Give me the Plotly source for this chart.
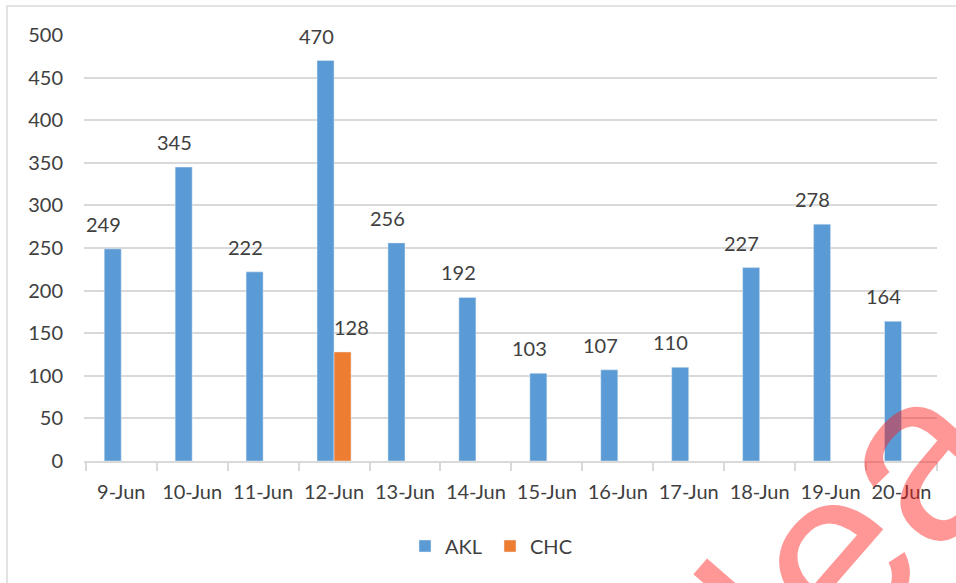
import math
import plotly.graph_objects as go

# Daily counts per airport
dates = ["9-Jun", "10-Jun", "11-Jun", "12-Jun", "13-Jun", "14-Jun",
         "15-Jun", "16-Jun", "17-Jun", "18-Jun", "19-Jun", "20-Jun"]
akl = [249, 345, 222, 470, 256, 192, 103, 107, 110, 227, 278, 164]
chc = [None, None, None, 128, None, None, None, None, None, None, None, None]

BLUE = "#5B9BD5"
ORANGE = "#ED7D31"
TEXT = "#404040"
GRID = "#D9D9D9"
FONT = "Lato"
FS = 20

W, H = 956, 583
ML, MR, MT, MB = 84, 19, 35, 122
pw, ph = W - ML - MR, H - MT - MB


def px(xp):
    return (xp - ML) / pw


def py(yp):
    return (H - MB - yp) / ph


fig = go.Figure()
fig.add_trace(go.Bar(name="AKL", x=dates, y=akl, marker_color=BLUE))
fig.add_trace(go.Bar(name="CHC", x=dates, y=chc, marker_color=ORANGE))

# Value labels above each bar (AKL sits left in each group, CHC right)
annotations = []
for series, offset in ((akl, -0.25), (chc, 0.25)):
    for i, v in enumerate(series):
        if v is None:
            continue
        annotations.append(dict(
            x=i + offset, y=v, xref="x", yref="y", text=str(v),
            showarrow=False, yanchor="bottom", yshift=11,
            font=dict(family=FONT, size=FS, color=TEXT)))

# Red watermark lettering in the lower right corner, one glyph at a time
WM_SIZE = 238
WM_ANGLE = 49
dx, dy = math.cos(math.radians(WM_ANGLE)), -math.sin(math.radians(WM_ANGLE))
ux, uy = -math.sin(math.radians(WM_ANGLE)), -math.cos(math.radians(WM_ANGLE))
base_x, base_y = 845, 570          # visual centre of the "e"
glyphs = [("l", -0.389), ("e", 0.0), ("a", 0.556)]
for ch, adv in glyphs:
    cx = base_x + dx * adv * WM_SIZE + ux * 0.09 * WM_SIZE
    cy = base_y + dy * adv * WM_SIZE + uy * 0.09 * WM_SIZE
    annotations.append(dict(
        x=px(cx), y=py(cy), xref="paper", yref="paper", text=ch,
        showarrow=False, textangle=-WM_ANGLE, xanchor="center", yanchor="middle",
        font=dict(family="Liberation Sans", size=WM_SIZE,
                  color="rgba(255,25,25,0.45)")))

fig.update_layout(
    width=W, height=H,
    margin=dict(l=ML, r=MR, t=MT, b=MB),
    paper_bgcolor="white", plot_bgcolor="white",
    barmode="group", bargap=0.52, bargroupgap=0,
    font=dict(family=FONT, size=FS, color=TEXT),
    annotations=annotations,
    legend=dict(orientation="h", x=px(490), xanchor="center",
                y=py(546), yanchor="middle",
                font=dict(family=FONT, size=FS, color=TEXT),
                itemwidth=30, entrywidth=40, traceorder="normal"),
    shapes=[dict(type="rect", xref="paper", yref="paper",
                 x0=px(7), x1=px(W + 20), y0=py(H + 20), y1=py(6),
                 line=dict(color=GRID, width=1.5), fillcolor="rgba(0,0,0,0)",
                 layer="below")],
)

fig.update_xaxes(
    type="category", showgrid=False, showline=True, linecolor=GRID, linewidth=2,
    ticks="outside", tickson="boundaries", ticklen=8, tickcolor=GRID, tickwidth=1.5,
    tickfont=dict(family=FONT, size=FS, color=TEXT), ticklabelstandoff=12,
)
fig.update_yaxes(
    range=[0, 500], dtick=50, showgrid=True, gridcolor=GRID, gridwidth=2,
    zeroline=False, showline=False,
    tickfont=dict(family=FONT, size=FS, color=TEXT), ticklabelstandoff=20,
)

fig.write_html("out.html")
